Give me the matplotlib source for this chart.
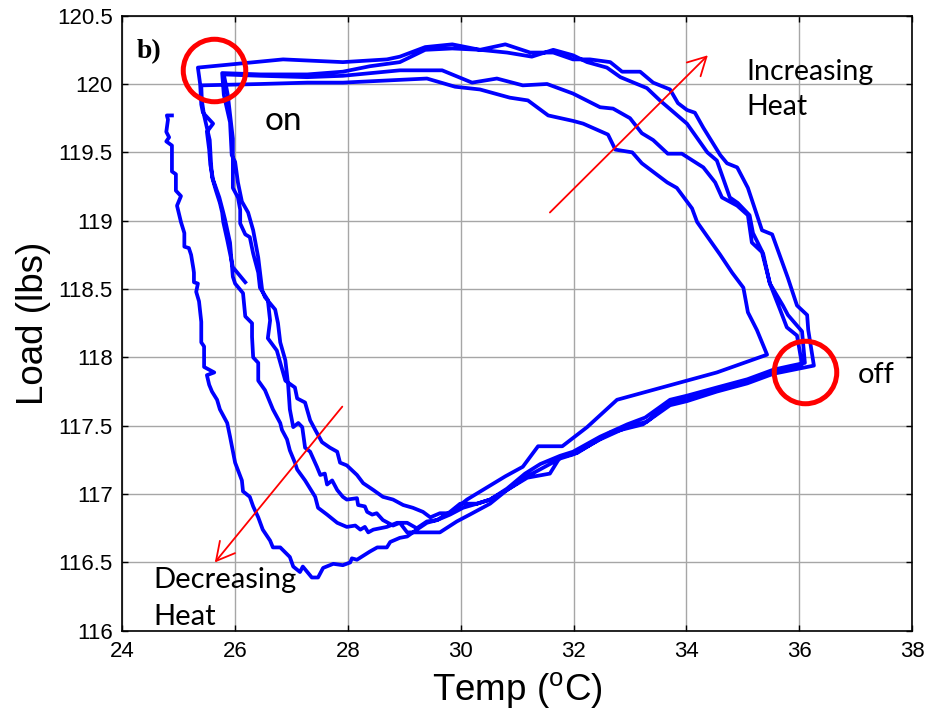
import numpy as np
import matplotlib
matplotlib.use('Agg')
import matplotlib.pyplot as plt

# load vs temperature, one continuous record split into heating cycles
# cycle 1: short left leg -> top -> inner right leg -> bottom -> left leg
loop1 = [(26.18, 118.55), (25.96, 118.66), (25.91, 118.76), (25.86, 118.86), (25.79, 118.99),
         (25.77, 119.06), (25.73, 119.13), (25.66, 119.22), (25.59, 119.32), (25.57, 119.44),
         (25.55, 119.59), (25.50, 119.68), (25.45, 119.77), (25.41, 119.88), (25.40, 119.99),
         (26.45, 120.00), (27.28, 120.01), (27.91, 120.01), (28.92, 120.03), (29.40, 120.04),
         (29.90, 119.98), (30.34, 119.96), (30.87, 119.90), (31.19, 119.88), (31.55, 119.77),
         (31.99, 119.73), (32.17, 119.71), (32.61, 119.63), (32.74, 119.52), (33.04, 119.50),
         (33.21, 119.42), (33.66, 119.28), (33.83, 119.24), (34.10, 119.09), (34.19, 118.99),
         (34.60, 118.75), (34.81, 118.62), (35.01, 118.51), (35.09, 118.33), (35.25, 118.20),
         (35.43, 118.02),
         (34.54, 117.89), (32.77, 117.69), (32.24, 117.49), (31.80, 117.35), (31.37, 117.35),
         (31.10, 117.20), (30.79, 117.13), (30.47, 117.05), (30.11, 116.96), (29.81, 116.86),
         (29.63, 116.86), (29.46, 116.83), (29.33, 116.87), (29.15, 116.90), (28.98, 116.92),
         (28.80, 116.96), (28.62, 116.98), (28.45, 117.03), (28.27, 117.08), (28.16, 117.14),
         (27.98, 117.21), (27.86, 117.23), (27.81, 117.31), (27.68, 117.34), (27.54, 117.38),
         (27.42, 117.47), (27.33, 117.54), (27.24, 117.67), (27.10, 117.70), (27.06, 117.78),
         (26.89, 117.83), (26.74, 118.05), (26.58, 118.14), (26.62, 118.27), (26.58, 118.42),
         (26.44, 118.51), (26.41, 118.62), (26.32, 118.76), (26.26, 118.88), (26.18, 118.90),
         (26.09, 118.98), (26.09, 119.08), (26.05, 119.17), (25.96, 119.24), (25.96, 119.60),
         (25.87, 119.92), (25.80, 120.07)]

loop2 = [(26.45, 120.06), (27.28, 120.05), (27.91, 120.06), (28.92, 120.10), (29.67, 120.10),
         (30.20, 120.01), (30.64, 120.04), (31.10, 119.99), (31.53, 120.00), (31.99, 119.93),
         (32.47, 119.83), (32.70, 119.82), (33.00, 119.75), (33.21, 119.64), (33.41, 119.59),
         (33.67, 119.49), (33.92, 119.49), (34.30, 119.39), (34.51, 119.28), (34.63, 119.17),
         (34.90, 119.11), (35.09, 119.04), (35.16, 118.84), (35.34, 118.77), (35.48, 118.54),
         (35.66, 118.35), (35.78, 118.22), (35.96, 118.16), (36.05, 117.95),
         (35.84, 117.92), (35.54, 117.89), (35.08, 117.83), (34.54, 117.77), (34.01, 117.70),
         (33.71, 117.67), (33.30, 117.53), (32.95, 117.49), (32.47, 117.40), (31.99, 117.29),
         (31.76, 117.26), (31.18, 117.13), (30.82, 117.03), (30.52, 116.93), (30.16, 116.85),
         (29.93, 116.80), (29.63, 116.72), (29.28, 116.72), (29.05, 116.72),
         (28.92, 116.79), (28.80, 116.77), (28.62, 116.81), (28.51, 116.86), (28.43, 116.85),
         (28.34, 116.87), (28.30, 116.91), (28.18, 116.92), (28.16, 116.97), (27.98, 116.96),
         (27.91, 116.98), (27.81, 117.03), (27.72, 117.10), (27.63, 117.07), (27.59, 117.15),
         (27.51, 117.14), (27.45, 117.20), (27.33, 117.31), (27.24, 117.34), (27.19, 117.49),
         (27.12, 117.52), (27.03, 117.49), (26.97, 117.62), (26.94, 117.80), (26.89, 117.98),
         (26.80, 118.11), (26.76, 118.25), (26.71, 118.35), (26.53, 118.44), (26.48, 118.49),
         (26.41, 118.73), (26.32, 118.93), (26.23, 119.06), (26.12, 119.14), (26.05, 119.28),
         (26.00, 119.43), (25.94, 119.48), (25.91, 119.72), (25.86, 119.81), (25.80, 119.92),
         (25.77, 120.08)]

loop3 = [(26.45, 120.07), (27.28, 120.07), (27.91, 120.09), (28.39, 120.13), (28.92, 120.16),
         (29.37, 120.25), (29.85, 120.26), (30.34, 120.25), (30.82, 120.23), (31.26, 120.20),
         (31.64, 120.25), (31.99, 120.21), (32.24, 120.16), (32.59, 120.12), (32.83, 120.05),
         (33.30, 119.97), (33.53, 119.88), (34.01, 119.71), (34.37, 119.50), (34.54, 119.44),
         (34.77, 119.17), (34.91, 119.13), (35.12, 119.04), (35.18, 118.91), (35.36, 118.76),
         (35.48, 118.54), (35.71, 118.38), (35.80, 118.31), (36.05, 118.19), (36.10, 117.96),
         (35.87, 117.94), (35.54, 117.91), (35.08, 117.84), (34.54, 117.78), (34.01, 117.72),
         (33.71, 117.69), (33.27, 117.56), (32.95, 117.51), (32.47, 117.42), (31.99, 117.31),
         (31.76, 117.28), (31.41, 117.22), (31.14, 117.15), (30.82, 117.04), (30.52, 116.96),
         (30.29, 116.93), (29.99, 116.93), (29.81, 116.87), (29.58, 116.81), (29.40, 116.80),
         (29.22, 116.75), (29.05, 116.79),
         (28.87, 116.79), (28.69, 116.76), (28.57, 116.75), (28.45, 116.74), (28.36, 116.72),
         (28.30, 116.76), (28.22, 116.74), (28.13, 116.77), (27.98, 116.76), (27.81, 116.79),
         (27.63, 116.85), (27.47, 116.90), (27.42, 116.98), (27.36, 117.02), (27.24, 117.10),
         (27.10, 117.18), (27.06, 117.23), (26.97, 117.32), (26.92, 117.40), (26.83, 117.47),
         (26.80, 117.52), (26.67, 117.62), (26.53, 117.76), (26.41, 117.83), (26.41, 117.96),
         (26.32, 118.00), (26.30, 118.15), (26.30, 118.25), (26.18, 118.30), (26.14, 118.47),
         (26.00, 118.54), (25.96, 118.59), (25.91, 118.84), (25.82, 119.01), (25.79, 119.06),
         (25.72, 119.17), (25.61, 119.30), (25.56, 119.41), (25.54, 119.52), (25.50, 119.65),
         (25.61, 119.71), (25.43, 119.79), (25.40, 119.85), (25.38, 120.00), (25.34, 120.12)]

loop4 = [(26.09, 120.15), (26.85, 120.18), (27.91, 120.16), (28.69, 120.18), (28.92, 120.20),
         (29.37, 120.27), (29.85, 120.29), (30.34, 120.25), (30.79, 120.29), (31.23, 120.23),
         (31.64, 120.23), (31.99, 120.18), (32.29, 120.18), (32.65, 120.16), (32.86, 120.09),
         (33.18, 120.09), (33.41, 120.01), (33.71, 119.96), (33.85, 119.86), (34.01, 119.81),
         (34.15, 119.79), (34.30, 119.68), (34.60, 119.48), (34.72, 119.42), (34.90, 119.39),
         (35.09, 119.24), (35.34, 118.93), (35.52, 118.90), (35.80, 118.58), (35.96, 118.38),
         (36.14, 118.31), (36.16, 118.20), (36.26, 117.94),
         (36.02, 117.92), (35.54, 117.88), (35.08, 117.81), (34.54, 117.75), (34.01, 117.68),
         (33.71, 117.65), (33.23, 117.51), (32.65, 117.45), (32.06, 117.30), (31.76, 117.27),
         (31.58, 117.15), (31.18, 117.12), (30.82, 117.03), (30.52, 116.96), (30.29, 116.93),
         (30.04, 116.90), (29.81, 116.85), (29.58, 116.81), (29.40, 116.79), (29.22, 116.74),
         (29.05, 116.69), (28.92, 116.68), (28.75, 116.65), (28.69, 116.61), (28.52, 116.61),
         (28.39, 116.58), (28.16, 116.52), (28.07, 116.53), (28.04, 116.50), (27.91, 116.48),
         (27.74, 116.49), (27.56, 116.46), (27.47, 116.39), (27.36, 116.39), (27.20, 116.47),
         (27.15, 116.43), (27.03, 116.47), (26.97, 116.54), (26.80, 116.61), (26.67, 116.61),
         (26.62, 116.66), (26.49, 116.74), (26.41, 116.83), (26.32, 116.91), (26.26, 116.98),
         (26.14, 117.02), (26.12, 117.10), (26.00, 117.23), (25.91, 117.42), (25.86, 117.52),
         (25.73, 117.62), (25.68, 117.69), (25.59, 117.75), (25.54, 117.80), (25.50, 117.87),
         (25.63, 117.89), (25.45, 117.93), (25.45, 118.08), (25.40, 118.11), (25.40, 118.26),
         (25.36, 118.41), (25.31, 118.48), (25.34, 118.54), (25.27, 118.55), (25.27, 118.62),
         (25.26, 118.65), (25.22, 118.75), (25.18, 118.80), (25.10, 118.81), (25.10, 118.91),
         (25.04, 118.99), (24.97, 119.11), (25.04, 119.18), (24.95, 119.22), (24.95, 119.34),
         (24.88, 119.36), (24.88, 119.55), (24.78, 119.58), (24.83, 119.61), (24.78, 119.65),
         (24.81, 119.74), (24.79, 119.77), (24.88, 119.77)]

on_point = (25.63, 120.10)
off_point = (36.10, 117.89)

xticks = np.arange(24, 39, 2)
yticks = np.arange(116, 120.6, 0.5)

data = np.array(loop1 + loop2 + loop3 + loop4)

plt.rcParams['font.family'] = ['Liberation Sans', 'DejaVu Sans']
fig = plt.figure(figsize=(9.3, 7.21), dpi=100)
ax = fig.add_axes([0.1315, 0.1251, 0.8492, 0.8532])

ax.plot(data[:, 0], data[:, 1], color='#0000ff', lw=2.7, zorder=3)

# on / off markers
ax.plot(*on_point, marker='o', ms=45, mfc='none', mec='red', mew=3.6, zorder=4)
ax.plot(*off_point, marker='o', ms=45, mfc='none', mec='red', mew=3.6, zorder=4)

arrow = dict(arrowstyle='->,head_length=0.65,head_width=0.35', color='red', lw=1.3,
             mutation_scale=20, shrinkA=0, shrinkB=0)
ax.annotate('', xy=(34.38, 120.21), xytext=(31.58, 119.06), arrowprops=arrow)
ax.annotate('', xy=(25.64, 116.50), xytext=(27.90, 117.64), arrowprops=arrow)

txt = dict(family=['Lato', 'DejaVu Sans'], color='black')
ax.text(26.53, 119.66, 'on', fontsize=24, **txt)
ax.text(37.04, 117.81, 'off', fontsize=21, **txt)
ax.text(35.07, 120.03, 'Increasing', fontsize=20.5, **txt)
ax.text(35.07, 119.77, 'Heat', fontsize=20.5, **txt)
ax.text(24.55, 116.31, 'Decreasing', fontsize=21, **txt)
ax.text(24.55, 116.04, 'Heat', fontsize=21, **txt)
ax.text(24.26, 120.19, 'b)', fontsize=20, fontweight='bold',
        family=['Liberation Serif', 'DejaVu Serif'])

ax.set_xlim(24, 38)
ax.set_ylim(116, 120.5)
ax.set_xticks(xticks)
ax.set_yticks(yticks)
ax.set_xticklabels([str(v) for v in xticks])
ax.set_yticklabels(['%g' % v for v in yticks])
ax.grid(True, color='#a6a6a6', lw=1.0)
ax.set_axisbelow(True)
ax.tick_params(direction='in', length=4, width=1, top=True, right=True, labelsize=16, pad=7)
for s in ax.spines.values():
    s.set_linewidth(1.2)

ax.set_xlabel('Temp ($^\\mathregular{o}$C)', fontsize=26.5, labelpad=6)
ax.set_ylabel('Load (lbs)', fontsize=26.5, labelpad=4)

fig.savefig('out.png', dpi=100, facecolor='white')
